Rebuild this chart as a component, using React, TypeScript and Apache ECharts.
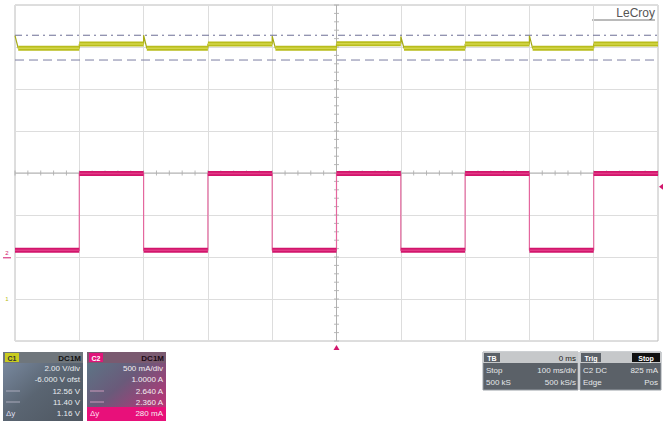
import React, { useEffect, useRef } from "react";
import * as echarts from "echarts";

// ---- data (in screen divisions) ----
const xDivisions = [0, 1, 2, 3, 4, 5, 6, 7, 8, 9, 10];
const segmentStarts = [0, 1, 2, 3, 4, 5, 6, 7, 8, 9];
const yellowLevels = [6.97, 7.07, 6.97, 7.07, 6.97, 7.08, 6.97, 7.07, 6.97, 7.07];
const yellowSpikePeaks = [7.27, null, 7.28, null, 7.26, null, 7.25, null, 7.27, null];
const pinkLevels = [2.16, 3.99, 2.16, 3.99, 2.16, 3.99, 2.16, 3.99, 2.16, 3.99];
const yellowCursorUpper = 7.28;
const yellowCursorLower = 6.69;
const centerX = 5;
const centerY = 4;
const minorStep = 0.2;
const triggerTime = 5;
const triggerLevel = 3.67;
const c1GroundLevel = 1.0;
const c2GroundLevel = 2.1;

const c1Lines = ["2.00 V/div", "-6.000 V ofst", "12.56 V", "11.40 V", "1.16 V"];
const c2Lines = ["500 mA/div", "1.0000 A", "2.640 A", "2.360 A", "280 mA"];
const tbLines = ["0 ms", "100 ms/div", "500 kS/s"];
const trigLines = ["Stop", "825 mA", "Pos"];

const YELLOW = "#b9bd1c";
const YELLOW_IN = "#d3d64a";
const PINK = "#d2166c";
const PINK_IN = "#e23a86";

function buildTrace(levels: number[], spikes: (number | null)[] | null) {
  const thick: any[] = [];
  const thin: any[] = [];
  segmentStarts.forEach((s, i) => {
    const lvl = levels[i];
    const pk = spikes ? spikes[i] : null;
    if (pk != null) {
      if (i > 0) thin.push([s, levels[i - 1]]);
      thin.push([s, pk]);
      thin.push([s + 0.05, lvl]);
      thick.push([s + 0.05, lvl]);
    } else {
      thin.push([s, lvl]);
      thick.push([s, lvl]);
    }
    thin.push([s + 1, lvl]);
    thick.push([s + 1, lvl]);
    thick.push([s + 1, "-"]);
  });
  return { thick, thin };
}

function row(x: number, y: number, text: string, fill: string, align = "right", size = 8, weight: any = "normal") {
  return {
    type: "text",
    x,
    y,
    style: { text, fill, align, verticalAlign: "middle", fontSize: size, fontFamily: "Liberation Sans, Arial, sans-serif", fontWeight: weight },
  };
}

function infoGraphics(): any[] {
  const g: any[] = [];
  // Box C1
  g.push({ type: "rect", shape: { x: 3, y: 352, width: 80, height: 69 }, style: { fill: new echarts.graphic.LinearGradient(0, 0, 1, 1, [{ offset: 0, color: "#7d8ea6" }, { offset: 0.5, color: "#5a6572" }, { offset: 1, color: "#4e5660" }]) } });
  g.push({ type: "rect", shape: { x: 3, y: 352, width: 80, height: 11 }, style: { fill: "#6f767c" } });
  g.push({ type: "rect", shape: { x: 5, y: 353, width: 14, height: 9 }, style: { fill: "#c9cc1e" } });
  g.push(row(12, 358, "C1", "#333", "center", 7, "bold"));
  g.push(row(81, 358, "DC1M", "#111", "right", 8, "bold"));
  const ys = [368, 379, 391, 402, 413];
  c1Lines.forEach((t, i) => g.push(row(80, ys[i], t, "#e8ecf0")));
  g.push({ type: "line", shape: { x1: 6, y1: 391, x2: 20, y2: 391 }, style: { stroke: "#aab", lineWidth: 1 } });
  g.push({ type: "line", shape: { x1: 6, y1: 402, x2: 20, y2: 402 }, style: { stroke: "#aab", lineWidth: 1 } });
  g.push(row(6, 413, "Δy", "#dde", "left"));

  // Box C2
  g.push({ type: "rect", shape: { x: 87, y: 352, width: 79, height: 69 }, style: { fill: new echarts.graphic.LinearGradient(0, 0, 1, 1, [{ offset: 0, color: "#5a7a88" }, { offset: 0.45, color: "#6a5a7a" }, { offset: 1, color: "#d02a78" }]) } });
  g.push({ type: "rect", shape: { x: 87, y: 352, width: 79, height: 11 }, style: { fill: "#7a5a70" } });
  g.push({ type: "rect", shape: { x: 89, y: 353, width: 14, height: 9 }, style: { fill: "#e0157a" } });
  g.push(row(96, 358, "C2", "#fff", "center", 7, "bold"));
  g.push(row(164, 358, "DC1M", "#1a0a14", "right", 8, "bold"));
  g.push({ type: "rect", shape: { x: 87, y: 407, width: 79, height: 14 }, style: { fill: "#e8107a" } });
  c2Lines.forEach((t, i) => g.push(row(163, ys[i], t, "#f4eef2")));
  g.push({ type: "line", shape: { x1: 90, y1: 391, x2: 104, y2: 391 }, style: { stroke: "#c9b", lineWidth: 1 } });
  g.push({ type: "line", shape: { x1: 90, y1: 402, x2: 104, y2: 402 }, style: { stroke: "#c9b", lineWidth: 1 } });
  g.push(row(90, 413, "Δy", "#fde", "left"));

  // Box TB
  g.push({ type: "rect", shape: { x: 483, y: 352, width: 95, height: 38 }, style: { fill: "#5b6168", stroke: "#9aa0a6", lineWidth: 1 } });
  g.push({ type: "rect", shape: { x: 483, y: 352, width: 95, height: 11 }, style: { fill: "#c6c8ca" } });
  g.push({ type: "rect", shape: { x: 484, y: 353, width: 16, height: 9 }, style: { fill: "#5b6168" } });
  g.push(row(492, 358, "TB", "#fff", "center", 7, "bold"));
  g.push(row(576, 358, tbLines[0], "#222", "right"));
  g.push(row(486, 370, "Stop", "#e6e8ea", "left"));
  g.push(row(576, 370, tbLines[1], "#e6e8ea", "right"));
  g.push(row(486, 382, "500 kS", "#e6e8ea", "left"));
  g.push(row(576, 382, tbLines[2], "#e6e8ea", "right"));

  // Box Trig
  g.push({ type: "rect", shape: { x: 580, y: 352, width: 81, height: 38 }, style: { fill: "#5b6168", stroke: "#9aa0a6", lineWidth: 1 } });
  g.push({ type: "rect", shape: { x: 580, y: 352, width: 81, height: 11 }, style: { fill: "#c6c8ca" } });
  g.push({ type: "rect", shape: { x: 581, y: 353, width: 20, height: 9 }, style: { fill: "#5b6168" } });
  g.push(row(591, 358, "Trig", "#fff", "center", 7, "bold"));
  g.push({ type: "rect", shape: { x: 632, y: 353, width: 28, height: 9 }, style: { fill: "#111" } });
  g.push(row(646, 358, trigLines[0], "#fff", "center", 7, "bold"));
  g.push(row(583, 370, "C2 DC", "#e6e8ea", "left"));
  g.push(row(658, 370, trigLines[1], "#e6e8ea", "right"));
  g.push(row(583, 382, "Edge", "#e6e8ea", "left"));
  g.push(row(658, 382, trigLines[2], "#e6e8ea", "right"));

  // LeCroy logo
  g.push(row(655, 13, "LeCroy", "#555", "right", 12));
  g.push({ type: "line", shape: { x1: 592, y1: 20, x2: 655, y2: 20 }, style: { stroke: "#777", lineWidth: 1 } });
  return g;
}

export default function App() {
  const ref = useRef<HTMLDivElement>(null);
  useEffect(() => {
    if (!ref.current) return;
    const chart = echarts.init(ref.current, undefined, { renderer: "svg" });
    const y = buildTrace(yellowLevels, yellowSpikePeaks);
    const p = buildTrace(pinkLevels, null);

    const hTicks: any[] = [];
    const vTicks: any[] = [];
    for (let t = 0; t <= 10 + 1e-9; t += minorStep) hTicks.push([+t.toFixed(2), centerY]);
    for (let t = 0; t <= 8 + 1e-9; t += minorStep) vTicks.push([centerX, +t.toFixed(2)]);

    chart.setOption({
      animation: false,
      backgroundColor: "#ffffff",
      grid: { left: 15, top: 5, width: 643, height: 336, show: true, borderColor: "#bdbdbd", borderWidth: 1, backgroundColor: "transparent" },
      xAxis: {
        type: "value", min: xDivisions[0], max: xDivisions[xDivisions.length - 1], interval: 1,
        axisLabel: { show: false }, axisTick: { show: false }, axisLine: { show: false },
        splitLine: { lineStyle: { color: "#dddddd", width: 1 } },
      },
      yAxis: {
        type: "value", min: 0, max: 8, interval: 1,
        axisLabel: { show: false }, axisTick: { show: false }, axisLine: { show: false },
        splitLine: { lineStyle: { color: "#dddddd", width: 1 } },
      },
      series: [
        { type: "scatter", data: hTicks, symbol: "rect", symbolSize: [1, 5], itemStyle: { color: "#a8a8a8" }, silent: true },
        { type: "scatter", data: vTicks, symbol: "rect", symbolSize: [5, 1], itemStyle: { color: "#a8a8a8" }, silent: true },
        { type: "line", data: [[0, centerY], [10, centerY]], showSymbol: false, lineStyle: { color: "#b0b0b0", width: 1 }, silent: true },
        { type: "line", data: [[centerX, 0], [centerX, 8]], showSymbol: false, lineStyle: { color: "#b0b0b0", width: 1 }, silent: true },
        { type: "line", data: [[0, yellowCursorUpper], [10, yellowCursorUpper]], showSymbol: false, lineStyle: { color: "#6d6f96", width: 1, type: [7, 4, 2, 4] }, silent: true },
        { type: "line", data: [[0, yellowCursorLower], [10, yellowCursorLower]], showSymbol: false, lineStyle: { color: "#7d7fa2", width: 1, type: [9, 5] }, silent: true },
        { type: "line", data: y.thin, showSymbol: false, lineStyle: { color: "#a6aa18", width: 1.2 }, silent: true },
        { type: "line", data: y.thick, showSymbol: false, connectNulls: false, lineStyle: { color: YELLOW, width: 5 }, silent: true },
        { type: "line", data: y.thick, showSymbol: false, connectNulls: false, lineStyle: { color: YELLOW_IN, width: 1.5 }, silent: true },
        { type: "line", data: p.thin, showSymbol: false, lineStyle: { color: "#e4679e", width: 1.2 }, silent: true },
        { type: "line", data: p.thick, showSymbol: false, connectNulls: false, lineStyle: { color: PINK, width: 5 }, silent: true },
        { type: "line", data: p.thick, showSymbol: false, connectNulls: false, lineStyle: { color: PINK_IN, width: 1.5 }, silent: true },
      ],
      graphic: infoGraphics(),
    });

    const trig = chart.convertToPixel({ gridIndex: 0 }, [triggerTime, 0]) as number[];
    const lvl = chart.convertToPixel({ gridIndex: 0 }, [10, triggerLevel]) as number[];
    const g1 = chart.convertToPixel({ gridIndex: 0 }, [0, c1GroundLevel]) as number[];
    const g2 = chart.convertToPixel({ gridIndex: 0 }, [0, c2GroundLevel]) as number[];
    chart.setOption({
      graphic: [
        ...infoGraphics(),
        { type: "polygon", shape: { points: [[trig[0] - 3, trig[1] + 9], [trig[0] + 3, trig[1] + 9], [trig[0], trig[1] + 4]] }, style: { fill: PINK } },
        { type: "polygon", shape: { points: [[lvl[0] + 5, lvl[1] - 3], [lvl[0] + 5, lvl[1] + 3], [lvl[0] + 1, lvl[1]]] }, style: { fill: PINK } },
        row(g2[0] - 8, g2[1], "2", PINK, "center", 6),
        { type: "line", shape: { x1: g2[0] - 12, y1: g2[1] + 5, x2: g2[0] - 4, y2: g2[1] + 5 }, style: { stroke: PINK, lineWidth: 1 } },
        row(g1[0] - 8, g1[1], "1", "#b8bc20", "center", 6),
      ],
    });

    return () => chart.dispose();
  }, []);
  return <div ref={ref} style={{ position: "absolute", left: 0, top: 0, width: 663, height: 421 }} />;
}
